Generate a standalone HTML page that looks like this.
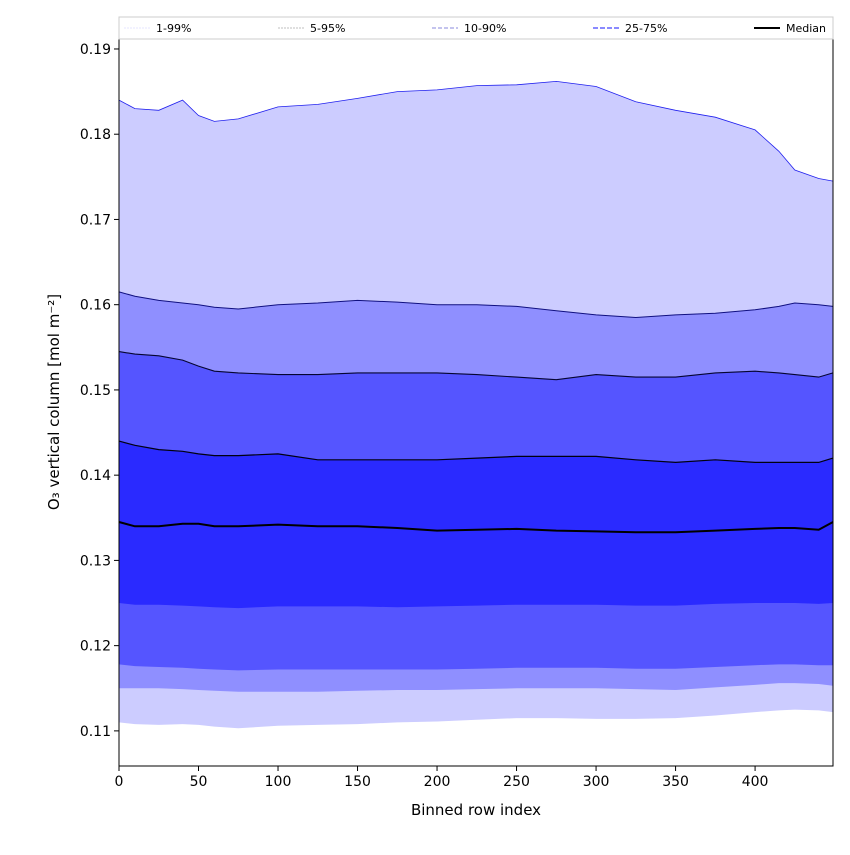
<!DOCTYPE html>
<html><head><meta charset="utf-8">
<style>
body{margin:0;background:#fff;font-family:"Liberation Sans","DejaVu Sans",sans-serif;}
svg text{font-family:"DejaVu Sans","Liberation Sans",sans-serif;}
</style></head>
<body>
<svg id="chart" width="850" height="850"></svg>
<script>
const rows = [0,10,25,40,50,60,75,100,125,150,175,200,225,250,275,300,325,350,375,400,415,425,440,449];
const p99 = [0.1840,0.1830,0.1828,0.1840,0.1822,0.1815,0.1818,0.1832,0.1835,0.1842,0.1850,0.1852,0.1857,0.1858,0.1862,0.1856,0.1838,0.1828,0.1820,0.1805,0.1780,0.1758,0.1748,0.1745];
const p95 = [0.1615,0.1610,0.1605,0.1602,0.1600,0.1597,0.1595,0.1600,0.1602,0.1605,0.1603,0.1600,0.1600,0.1598,0.1593,0.1588,0.1585,0.1588,0.1590,0.1594,0.1598,0.1602,0.1600,0.1598];
const p90 = [0.1545,0.1542,0.1540,0.1535,0.1528,0.1522,0.1520,0.1518,0.1518,0.1520,0.1520,0.1520,0.1518,0.1515,0.1512,0.1518,0.1515,0.1515,0.1520,0.1522,0.1520,0.1518,0.1515,0.1520];
const p75 = [0.1440,0.1435,0.1430,0.1428,0.1425,0.1423,0.1423,0.1425,0.1418,0.1418,0.1418,0.1418,0.1420,0.1422,0.1422,0.1422,0.1418,0.1415,0.1418,0.1415,0.1415,0.1415,0.1415,0.1420];
const p50 = [0.1345,0.1340,0.1340,0.1343,0.1343,0.1340,0.1340,0.1342,0.1340,0.1340,0.1338,0.1335,0.1336,0.1337,0.1335,0.1334,0.1333,0.1333,0.1335,0.1337,0.1338,0.1338,0.1336,0.1345];
const p25 = [0.1250,0.1248,0.1248,0.1247,0.1246,0.1245,0.1244,0.1246,0.1246,0.1246,0.1245,0.1246,0.1247,0.1248,0.1248,0.1248,0.1247,0.1247,0.1249,0.1250,0.1250,0.1250,0.1249,0.1250];
const p10 = [0.1178,0.1176,0.1175,0.1174,0.1173,0.1172,0.1171,0.1172,0.1172,0.1172,0.1172,0.1172,0.1173,0.1174,0.1174,0.1174,0.1173,0.1173,0.1175,0.1177,0.1178,0.1178,0.1177,0.1177];
const p5  = [0.1150,0.1150,0.1150,0.1149,0.1148,0.1147,0.1146,0.1146,0.1146,0.1147,0.1148,0.1148,0.1149,0.1150,0.1150,0.1150,0.1149,0.1148,0.1151,0.1154,0.1156,0.1156,0.1155,0.1153];
const p1  = [0.1110,0.1108,0.1107,0.1108,0.1107,0.1105,0.1103,0.1106,0.1107,0.1108,0.1110,0.1111,0.1113,0.1115,0.1115,0.1114,0.1114,0.1115,0.1118,0.1122,0.1124,0.1125,0.1124,0.1122];
const xTicks = [0,50,100,150,200,250,300,350,400];
const yTicks = [0.11,0.12,0.13,0.14,0.15,0.16,0.17,0.18,0.19];

const NS="http://www.w3.org/2000/svg";
const svg=document.getElementById('chart');
const L=119,R=833,T=39,B=766;
const xMin=0,xMax=449,yMin=0.10588,yMax=0.19117;
const X=v=>L+(v-xMin)/(xMax-xMin)*(R-L);
const Y=v=>B-(v-yMin)/(yMax-yMin)*(B-T);
function el(tag,attrs,parent){const e=document.createElementNS(NS,tag);for(const k in attrs)e.setAttribute(k,attrs[k]);(parent||svg).appendChild(e);return e;}
function linePts(arr){return rows.map((r,i)=>X(r).toFixed(1)+','+Y(arr[i]).toFixed(1));}
function band(lo,hi,fill,name){
  const pts=linePts(hi).concat(linePts(lo).reverse());
  const p=el('polygon',{points:pts.join(' '),fill:fill});
  
  
}
band(p1,p99,'#ccccff','band-1-99');
band(p5,p95,'#8f8fff','band-5-95');
band(p10,p90,'#5555ff','band-10-90');
band(p25,p75,'#2a2aff','band-25-75');
function line(arr,color,w,name){
  const p=el('polyline',{points:linePts(arr).join(' '),fill:'none',stroke:color,'stroke-width':w});
  
  
}
line(p99,'#2020ee',0.8,'line-p99');
line(p95,'#101080',1,'line-p95');
line(p90,'#050530',1.1,'line-p90');
line(p75,'#000010',1.2,'line-p75');
line(p50,'#000',2,'median-line');

const frame=el('rect',{x:L,y:T,width:R-L,height:B-T,fill:'none',stroke:'#000','stroke-width':1});



xTicks.forEach(v=>{
  const x=X(v);
  el('line',{x1:x,x2:x,y1:B,y2:B+5,stroke:'#000'});
  const t=el('text',{x:x,y:B+20,'text-anchor':'middle','font-size':14});
  t.textContent=v;
  
  
});
yTicks.forEach(v=>{
  const y=Y(v);
  el('line',{x1:L-5,x2:L,y1:y,y2:y,stroke:'#000'});
  const t=el('text',{x:L-8,y:y+5,'text-anchor':'end','font-size':14});
  t.textContent=v.toFixed(2);
  
  
});
const xt=el('text',{x:(L+R)/2,y:815,'text-anchor':'middle','font-size':15});
xt.textContent='Binned row index';


const yt=el('text',{x:0,y:0,'text-anchor':'middle','font-size':15,transform:'translate(59,402) rotate(-90)'});
yt.textContent='O₃ vertical column [mol m⁻²]';



const lg=el('rect',{x:L,y:17,width:R-L,height:22,fill:'#fff',stroke:'#ccc'});


const legend=[['1-99%',124,'#ddddff',0.8,'2,1'],['5-95%',278,'#aaaaaa',0.8,'2,1'],['10-90%',432,'#8888dd',1,'4,2'],['25-75%',593,'#4444ff',1.2,'5,2'],['Median',754,'#000',2,'']];
legend.forEach(d=>{
  const g=el('g',{});
  
  
  el('line',{x1:d[1],x2:d[1]+26,y1:28,y2:28,stroke:d[2],'stroke-width':d[3],'stroke-dasharray':d[4]},g);
  const t=el('text',{x:d[1]+32,y:32,'font-size':11},g);
  t.textContent=d[0];
});
</script>
</body></html>
